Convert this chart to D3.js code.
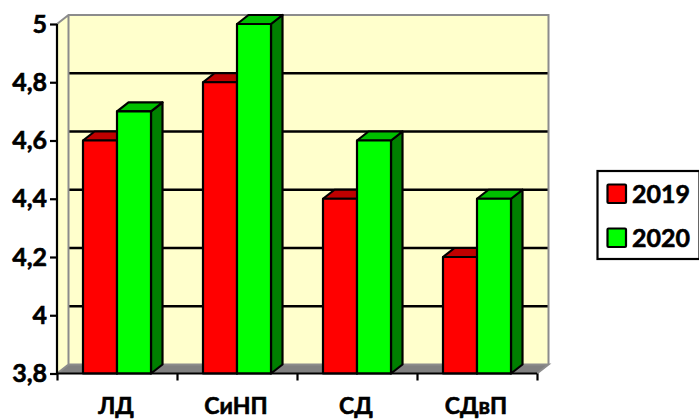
<!DOCTYPE html>
<html><head><meta charset="utf-8">
<script src="https://cdn.jsdelivr.net/npm/d3@7"></script>
<style>html,body{margin:0;padding:0;background:#fff}svg{display:block}text{font-family:Lato,"Open Sans",sans-serif;font-weight:700;fill:#000;stroke:#000;stroke-width:.6px}</style>
</head><body><svg id="c" width="699" height="419"></svg>
<script>
const categories = ["ЛД","СиНП","СД","СДвП"];
const seriesNames = ["2019","2020"];
const values2019 = [4.6,4.8,4.4,4.2];
const values2020 = [4.7,5,4.6,4.4];
const yTicks = [3.8,4,4.2,4.4,4.6,4.8,5];
const colors = {"2019":{front:"#ff0000",top:"#bf0000",side:"#800000"},"2020":{front:"#00ff00",top:"#00bf00",side:"#008000"}};
const svg = d3.select("#c");
const x0=57,x1=537,yB=373.5,yT=24,dx=11.5,dy=-9;
const y = d3.scaleLinear().domain([3.8,5]).range([yB,yT]);
const x = d3.scaleBand().domain(categories).range([x0,x1]).paddingInner(0.4333).paddingOuter(0.21665);
const xs = d3.scaleBand().domain(seriesNames).range([0,x.bandwidth()]);
const poly=(g,pts,fill,stroke,sw)=>g.append("polygon").attr("points",pts.map(p=>p.join(",")).join(" ")).attr("fill",fill).attr("stroke",stroke||"none").attr("stroke-width",sw||0).attr("stroke-linejoin","round");
const g=svg.append("g");
// walls
poly(g,[[x0+dx,yT+dy],[x1+dx,yT+dy],[x1+dx,yB+dy],[x0+dx,yB+dy]],"#ffffcc");
poly(g,[[x0,yT],[x0+dx,yT+dy],[x0+dx,yB+dy],[x0,yB]],"#ffffcc");
poly(g,[[x0,yB],[x0+dx,yB+dy],[x1+dx,yB+dy],[x1,yB]],"#808080");
// gridlines
yTicks.filter(t=>t>3.8&&t<5).forEach(t=>g.append("line").attr("x1",x0+dx).attr("x2",x1+dx).attr("y1",y(t)+dy).attr("y2",y(t)+dy).attr("stroke","#000").attr("stroke-width",2.4));
// wall edges
g.append("path").attr("d",`M${x0},${yT}L${x0+dx},${yT+dy}L${x1+dx},${yT+dy}L${x1+dx},${yB+dy}M${x0+dx},${yT+dy}L${x0+dx},${yB+dy}L${x0},${yB}M${x0+dx},${yB+dy}L${x1+dx},${yB+dy}L${x1},${yB}`).attr("fill","none").attr("stroke","#8c8c8c").attr("stroke-width",2);
// bars
categories.forEach((c,i)=>{
  [[seriesNames[0],values2019[i]],[seriesNames[1],values2020[i]]].forEach(([s,v])=>{
    const a=x(c)+xs(s),b=a+xs.bandwidth(),t=y(v),col=colors[s];
    poly(g,[[b,t],[b+dx,t+dy],[b+dx,yB+dy],[b,yB]],col.side,"#000",2.2);
    poly(g,[[a,t],[a+dx,t+dy],[b+dx,t+dy],[b,t]],col.top,"#000",2.2);
    poly(g,[[a,t],[b,t],[b,yB],[a,yB]],col.front,"#000",2.2);
  });
});
// axes
const ay=svg.append("g").attr("transform",`translate(${x0},0)`).call(d3.axisLeft(y).tickValues(yTicks).tickSize(7).tickPadding(3).tickFormat(d=>String(d).replace(".",",")));
ay.selectAll("line").attr("stroke","#000").attr("stroke-width",2.2);
ay.select(".domain").attr("stroke","#000").attr("stroke-width",2.2).attr("d",`M0,${yT}V${yB}`);
ay.selectAll("text").style("font-size","25px");
const ax=svg.append("g").attr("transform",`translate(0,${yB})`);
const edges=d3.scalePoint().domain(d3.range(categories.length+1)).range([x0,x1]);
ax.call(d3.axisBottom(edges).tickSize(7).tickFormat(""));
ax.selectAll("line").attr("stroke","#000").attr("stroke-width",2.2);
ax.select(".domain").attr("stroke","#000").attr("stroke-width",2.2).attr("d",`M${x0},0H${x1}`);
svg.append("g").selectAll("text").data(categories).join("text").attr("x",d=>x(d)+x.bandwidth()/2-1).attr("y",414).attr("text-anchor","middle").style("font-size","23px").text(d=>d);
// legend
const lg=svg.append("g").attr("transform","translate(597.5,171)");
lg.append("rect").attr("width",102).attr("height",88).attr("fill","#fff").attr("stroke","#000").attr("stroke-width",2.2);
seriesNames.forEach((s,i)=>{
  const it=lg.append("g").attr("transform",`translate(10,${13.5+i*44})`);
  it.append("rect").attr("width",18.5).attr("height",18.5).attr("fill",colors[s].front).attr("stroke","#000").attr("stroke-width",2.2).attr("rx",1);
  it.append("text").attr("x",24.5).attr("y",18.5).style("font-size","25px").text(s);
});
</script></body></html>
